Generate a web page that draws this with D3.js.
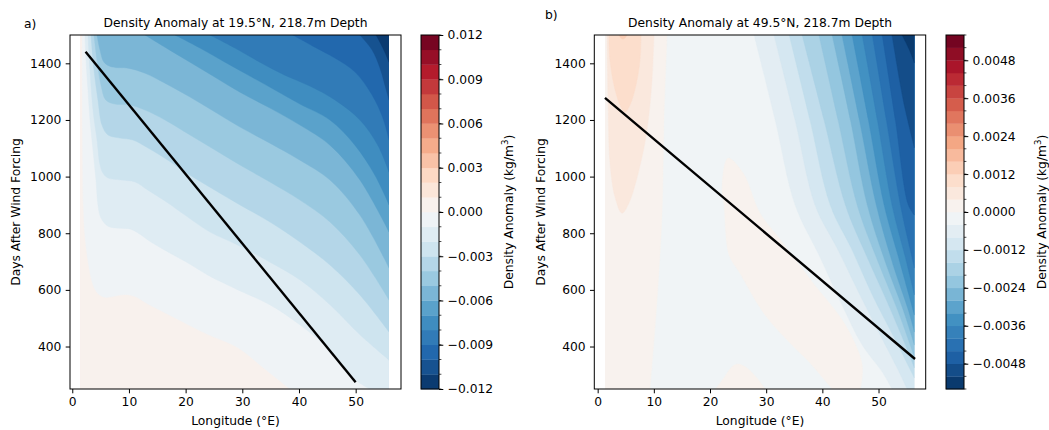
<!DOCTYPE html>
<html><head><meta charset="utf-8">
<script src="https://cdn.jsdelivr.net/npm/d3@7"></script>
<style>
body{margin:0;background:#fff}
svg text{font-family:"DejaVu Sans",sans-serif;fill:#000}
</style>
</head><body>
<svg id="chart" width="1049" height="430"></svg>
<script>
// ---------------- DATA ----------------
const dayExtent = [250, 1500];
const lonExtentA = [1.35, 55.9];
const lonExtentB = [1.3, 56.4];
const xLimA = [-0.4, 58.0];
const xLimB = [-0.6, 58.4];
const xTickValues = [0, 10, 20, 30, 40, 50];
const yTickValues = [400, 600, 800, 1000, 1200, 1400];

const levelsA = [-0.012,-0.011,-0.010,-0.009,-0.008,-0.007,-0.006,-0.005,-0.004,-0.003,-0.002,-0.001,0,
                 0.001,0.002,0.003,0.004,0.005,0.006,0.007,0.008,0.009,0.010,0.011,0.012];
const levelsB = [-0.0056,-0.0052,-0.0048,-0.0044,-0.0040,-0.0036,-0.0032,-0.0028,-0.0024,-0.0020,-0.0016,-0.0012,-0.0008,-0.0004,0,
                 0.0004,0.0008,0.0012,0.0016,0.0020,0.0024,0.0028,0.0032,0.0036,0.0040,0.0044,0.0048,0.0052,0.0056];
const cbTicksA = [-0.012,-0.009,-0.006,-0.003,0,0.003,0.006,0.009,0.012];
const cbTicksB = [-0.0048,-0.0036,-0.0024,-0.0012,0,0.0012,0.0024,0.0036,0.0048];

// propagation lines [lon, day]
const lineA = [[2.35, 1441], [50.0, 274]];
const lineB = [[1.3, 1278], [56.5, 356]];

// ---- panel a contour lines (lon, day) ----
const a_p000 = [[1.7,1500],[1.9,900],[2.2,785],[2.8,690],[3.6,618],[4.5,586],[5.8,572],[7.0,575],[9.3,582],[11.0,576],[13.4,548],[16.9,512],[20.4,476],[24.0,441],[29.2,395],[33.8,322],[38.3,250]];
const a_m001 = [[2.24,1500],[2.42,1411],[2.77,1305],[3.12,1200],[3.65,1094],[4.18,988],[4.53,900],[5.06,854],[6.3,825],[8.06,818],[10.18,815],[11.59,801],[13.88,769],[16.88,734],[20.41,695],[23.94,652],[29.24,600],[34.9,547],[40.2,476],[45.5,388],[50.0,282],[52.5,250]];
const a_m002 = [[2.77,1500],[3.12,1376],[3.65,1235],[4.36,1129],[4.89,1041],[5.42,1012],[6.3,995],[8.59,988],[11.06,981],[13.36,952],[16.88,907],[19.88,864],[24.3,804],[29.24,758],[34.88,698],[40.2,635],[45.5,547],[50.8,441],[55.9,352]];
const a_m003 = [[3.3,1500],[3.83,1376],[4.53,1270],[5.24,1182],[6.3,1147],[8.41,1136],[10.7,1129],[13.36,1101],[16.88,1058],[20.77,1005],[25.18,952],[29.59,900],[34.88,840],[40.17,769],[45.46,688],[50.75,582],[55.9,451]];
const a_m004 = [[3.83,1500],[4.36,1411],[5.06,1323],[5.95,1270],[7.53,1256],[10.18,1253],[12.83,1235],[16.35,1200],[20.77,1147],[25.18,1094],[29.59,1041],[34.88,981],[40.17,917],[45.46,840],[50.75,723],[55.9,564]];
const a_m005 = [[4.36,1500],[4.89,1447],[5.59,1404],[7.0,1387],[9.83,1383],[12.83,1365],[16.35,1330],[20.77,1281],[25.18,1228],[29.59,1175],[34.88,1118],[40.17,1058],[45.46,988],[50.75,864],[55.9,677]];
const a_m006 = [[12.83,1500],[16.35,1457],[20.77,1404],[25.18,1351],[29.59,1298],[34.88,1242],[40.17,1182],[45.46,1111],[50.75,988],[55.9,804]];
const a_m007 = [[18.12,1500],[22.53,1454],[26.94,1404],[31.35,1355],[35.76,1306],[40.17,1256],[45.46,1200],[49.87,1111],[53.4,1005],[55.9,900]];
const a_m008 = [[24.3,1500],[28.7,1454],[33.1,1404],[37.5,1358],[41.9,1320],[46.4,1270],[50.75,1200],[53.9,1111],[55.9,1016]];
const a_m009 = [[38.9,1500],[42.8,1457],[46.4,1418],[49.9,1369],[52.9,1288],[54.8,1207],[55.9,1129]];
const a_m010 = [[50.75,1500],[52.9,1447],[54.3,1383],[55.3,1313],[55.9,1270]];
const a_m011 = [[53.6,1500],[54.8,1454],[55.9,1404]];

// ---- panel b contour lines (lon, day) ----
const b_p000_west = [[12.35,1500],[11.8,1200],[11.46,871],[10.57,564],[9.32,250]];
const b_p000_band = [[41.75,250],[37.65,345],[34.6,405],[29.8,511],[25.2,663],[23.4,723],[22.5,900],[22.15,963],[23.2,1065],[25.9,1012],[28.9,871],[32.3,783],[38.2,628],[44.1,476],[47.1,335],[46.75,250]];
const b_p000_mound = [[21.0,250],[22.5,290],[24.0,330],[25.0,338],[26.5,325],[28.3,290],[29.8,250]];
const b_p004 = [[1.66,1500],[1.84,1281],[2.19,1048],[3.08,928],[4.33,871],[5.58,907],[7.36,1023],[8.78,1164],[9.68,1341],[10.03,1500]];
const b_p008 = [[2.0,1500],[2.19,1411],[2.9,1323],[3.97,1253],[4.86,1228],[5.76,1253],[6.82,1323],[7.54,1411],[7.72,1500]];
const b_p012 = [[3.8,1500],[4.15,1489],[4.5,1486],[4.86,1489],[5.2,1500]];
const b_m004 = [[27.85,1500],[31.6,1200],[35.15,900],[39.4,723],[43.5,547],[47.1,405],[50.66,310],[52.4,250]];
const b_m008 = [[31.4,1500],[35.15,1200],[38.7,900],[42.8,741],[46.7,582],[50.3,441],[53.5,317],[55.1,250]];
const b_m012 = [[34.1,1500],[37.8,1200],[41.4,900],[45.3,741],[48.9,582],[53.0,423],[56.4,289]];
const b_m016 = [[36.4,1500],[40.3,1200],[44.1,900],[47.8,723],[51.4,564],[54.8,405],[56.4,324]];
const b_m020 = [[39.4,1500],[42.8,1200],[46.2,900],[49.8,705],[53.4,529],[56.4,363]];
const b_m024 = [[41.75,1500],[45.0,1200],[48.0,900],[51.4,688],[54.4,529],[56.4,405]];
const b_m028 = [[43.5,1500],[46.6,1200],[49.6,900],[52.6,688],[55.3,529],[56.4,451]];
const b_m032 = [[45.3,1500],[48.2,1200],[51.0,900],[53.7,705],[56.4,511]];
const b_m036 = [[47.1,1500],[49.8,1200],[52.4,900],[54.9,705],[56.4,582]];
const b_m040 = [[48.9,1500],[51.4,1200],[53.9,900],[55.65,741],[56.4,677]];
const b_m044 = [[50.66,1500],[53.0,1200],[55.3,900],[56.4,864]];
const b_m048 = [[52.4,1500],[54.4,1270],[56.4,1101]];
const b_m052 = [[54.2,1500],[55.5,1447],[56.4,1401]];

// ---------------- RENDER ----------------
const rdbu = ["#053061","#2166ac","#4393c3","#92c5de","#d1e5f0","#f7f7f7","#fddbc7","#f4a582","#d6604d","#b2182b","#67001f"];
const cmap = d3.scaleLinear().domain(rdbu.map((_, i) => i / 10)).range(rdbu).interpolate(d3.interpolateRgb);

const svg = d3.select("#chart");
const FS = 12.3;
const TL = 4.3, TP = 4.3;

function bandColor(levels, lo, hi) {
  const vmin = levels[0], vmax = levels[levels.length - 1];
  return cmap(((lo + hi) / 2 - vmin) / (vmax - vmin));
}

function drawPanel(cfg) {
  const x = d3.scaleLinear().domain(cfg.xLim).range([cfg.left, cfg.right]);
  const y = d3.scaleLinear().domain(dayExtent).range([cfg.bottom, cfg.top]);
  const g = svg.append("g");
  const clipId = "clip" + cfg.id;
  svg.append("clipPath").attr("id", clipId).append("rect")
    .attr("x", x(cfg.lonExtent[0])).attr("y", y(dayExtent[1]))
    .attr("width", x(cfg.lonExtent[1]) - x(cfg.lonExtent[0]))
    .attr("height", y(dayExtent[0]) - y(dayExtent[1]));
  const field = g.append("g").attr("clip-path", `url(#${clipId})`);
  const step = cfg.levels[1] - cfg.levels[0];
  field.append("rect")
    .attr("x", x(cfg.lonExtent[0])).attr("y", y(dayExtent[1]))
    .attr("width", x(cfg.lonExtent[1]) - x(cfg.lonExtent[0]))
    .attr("height", y(dayExtent[0]) - y(dayExtent[1]))
    .attr("fill", bandColor(cfg.levels, cfg.base[0], cfg.base[1]));
  const corner = {
    TL: [cfg.lonExtent[0], dayExtent[1]], TR: [cfg.lonExtent[1], dayExtent[1]],
    BL: [cfg.lonExtent[0], dayExtent[0]], BR: [cfg.lonExtent[1], dayExtent[0]]
  };
  const lineGen = d3.line().x(d => x(d[0])).y(d => y(d[1])).curve(d3.curveCatmullRom.alpha(0.5));
  cfg.regions.forEach(r => {
    let p = lineGen(r.pts);
    r.close.forEach(k => { p += `L${x(corner[k][0])},${y(corner[k][1])}`; });
    p += "Z";
    const lo = r.side === "below" ? r.level - step : r.level;
    const hi = r.side === "below" ? r.level : r.level + step;
    const c = bandColor(cfg.levels, lo, hi);
    field.append("path").attr("d", p).attr("fill", c).attr("stroke", c).attr("stroke-width", 0.4);
  });
  g.append("path").attr("d", d3.line().x(d => x(d[0])).y(d => y(d[1]))(cfg.line))
    .attr("fill", "none").attr("stroke", "#000").attr("stroke-width", 2.4);
  const xa = g.append("g").attr("transform", `translate(0,${cfg.bottom})`)
    .call(d3.axisBottom(x).tickValues(xTickValues).tickSize(TL).tickPadding(TP).tickSizeOuter(0).tickFormat(d3.format("d")));
  const ya = g.append("g").attr("transform", `translate(${cfg.left},0)`)
    .call(d3.axisLeft(y).tickValues(yTickValues).tickSize(TL).tickPadding(TP).tickSizeOuter(0).tickFormat(d3.format("d")));
  [xa, ya].forEach(a => {
    a.select(".domain").remove();
    a.selectAll("text").attr("font-size", FS).attr("font-family", "DejaVu Sans");
    a.selectAll("line").attr("stroke", "#000").attr("stroke-width", 1);
  });
  g.append("rect").attr("x", cfg.left).attr("y", cfg.top)
    .attr("width", cfg.right - cfg.left).attr("height", cfg.bottom - cfg.top)
    .attr("fill", "none").attr("stroke", "#000").attr("stroke-width", 1);
  g.append("text").attr("x", (cfg.left + cfg.right) / 2).attr("y", 424.5)
    .attr("text-anchor", "middle").attr("font-size", FS).text("Longitude (°E)");
  g.append("text").attr("transform", `translate(${cfg.ylabX},${(cfg.top + cfg.bottom) / 2}) rotate(-90)`)
    .attr("text-anchor", "middle").attr("font-size", FS).text("Days After Wind Forcing");
  g.append("text").attr("x", (cfg.left + cfg.right) / 2).attr("y", 26.5)
    .attr("text-anchor", "middle").attr("font-size", FS).text(cfg.title);
  g.append("text").attr("x", cfg.tagX).attr("y", cfg.tagY).attr("font-size", FS).text(cfg.tag);

  // colorbar
  const cy = d3.scaleLinear().domain([cfg.levels[0], cfg.levels[cfg.levels.length - 1]]).range([cfg.bottom, cfg.top]);
  const cb = svg.append("g");
  for (let i = 0; i < cfg.levels.length - 1; i++) {
    const lo = cfg.levels[i], hi = cfg.levels[i + 1];
    cb.append("rect").attr("x", cfg.cbX).attr("width", cfg.cbW)
      .attr("y", cy(hi)).attr("height", cy(lo) - cy(hi) + 0.3)
      .attr("fill", bandColor(cfg.levels, lo, hi));
  }
  cb.append("rect").attr("x", cfg.cbX).attr("y", cfg.top).attr("width", cfg.cbW)
    .attr("height", cfg.bottom - cfg.top).attr("fill", "none").attr("stroke", "#000").attr("stroke-width", 1);
  const cax = cb.append("g").attr("transform", `translate(${cfg.cbX + cfg.cbW},0)`)
    .call(d3.axisRight(cy).tickValues(cfg.cbTicks).tickSize(TL).tickPadding(TP).tickSizeOuter(0)
      .tickFormat(v => d3.format(cfg.cbFmt)(Math.abs(v) < 1e-12 ? 0 : v).replace("-", "−")));
  cax.select(".domain").remove();
  cax.selectAll("text").attr("font-size", FS).attr("font-family", "DejaVu Sans");
  cax.selectAll("line").attr("stroke", "#000").attr("stroke-width", 1);
  const minor = cb.append("g").attr("transform", `translate(${cfg.cbX + cfg.cbW},0)`);
  minor.selectAll("line").data(cfg.levels).join("line")
    .attr("x1", 0).attr("x2", 2.4).attr("y1", d => cy(d)).attr("y2", d => cy(d))
    .attr("stroke", "#000").attr("stroke-width", 0.7);
  const lab = cb.append("text").attr("transform", `translate(${cfg.cbLabX},${(cfg.top + cfg.bottom) / 2}) rotate(-90)`)
    .attr("text-anchor", "middle").attr("font-size", FS);
  lab.append("tspan").text("Density Anomaly (kg/m");
  lab.append("tspan").attr("font-size", 8.6).attr("dy", -5).text("3");
  lab.append("tspan").attr("dy", 5).text(")");
}

const regionsA = [
  {level: -0.001, side: "below", pts: a_m001, close: ["BR", "TR"]},
  {level: -0.002, side: "below", pts: a_m002, close: ["TR"]},
  {level: -0.003, side: "below", pts: a_m003, close: ["TR"]},
  {level: -0.004, side: "below", pts: a_m004, close: ["TR"]},
  {level: -0.005, side: "below", pts: a_m005, close: ["TR"]},
  {level: -0.006, side: "below", pts: a_m006, close: ["TR"]},
  {level: -0.007, side: "below", pts: a_m007, close: ["TR"]},
  {level: -0.008, side: "below", pts: a_m008, close: ["TR"]},
  {level: -0.009, side: "below", pts: a_m009, close: ["TR"]},
  {level: -0.010, side: "below", pts: a_m010, close: ["TR"]},
  {level: -0.011, side: "below", pts: a_m011, close: ["TR"]},
  {level: 0, side: "above", pts: a_p000, close: ["BL", "TL"]}
];
const regionsB = [
  {level: -0.0004, side: "below", pts: b_m004, close: ["BR", "TR"]},
  {level: -0.0008, side: "below", pts: b_m008, close: ["BR", "TR"]},
  {level: -0.0012, side: "below", pts: b_m012, close: ["TR"]},
  {level: -0.0016, side: "below", pts: b_m016, close: ["TR"]},
  {level: -0.0020, side: "below", pts: b_m020, close: ["TR"]},
  {level: -0.0024, side: "below", pts: b_m024, close: ["TR"]},
  {level: -0.0028, side: "below", pts: b_m028, close: ["TR"]},
  {level: -0.0032, side: "below", pts: b_m032, close: ["TR"]},
  {level: -0.0036, side: "below", pts: b_m036, close: ["TR"]},
  {level: -0.0040, side: "below", pts: b_m040, close: ["TR"]},
  {level: -0.0044, side: "below", pts: b_m044, close: ["TR"]},
  {level: -0.0048, side: "below", pts: b_m048, close: ["TR"]},
  {level: -0.0052, side: "below", pts: b_m052, close: ["TR"]},
  {level: 0, side: "above", pts: b_p000_west, close: ["BL", "TL"]},
  {level: 0, side: "above", pts: b_p000_band, close: []},
  {level: 0, side: "above", pts: b_p000_mound, close: []},
  {level: 0.0004, side: "above", pts: b_p004, close: []},
  {level: 0.0008, side: "above", pts: b_p008, close: []},
  {level: 0.0012, side: "above", pts: b_p012, close: []}
];

drawPanel({id: "A", left: 70, right: 401, top: 35, bottom: 389, xLim: xLimA, lonExtent: lonExtentA,
  levels: levelsA, base: [-0.001, 0], regions: regionsA, line: lineA,
  title: "Density Anomaly at 19.5°N, 218.7m Depth", tag: "a)", tagX: 24, tagY: 28, ylabX: 20,
  cbX: 421, cbW: 18, cbTicks: cbTicksA, cbFmt: ".3f", cbLabX: 513});
drawPanel({id: "B", left: 594.3, right: 925.7, top: 35, bottom: 389, xLim: xLimB, lonExtent: lonExtentB,
  levels: levelsB, base: [-0.0004, 0], regions: regionsB, line: lineB,
  title: "Density Anomaly at 49.5°N, 218.7m Depth", tag: "b)", tagX: 545, tagY: 19, ylabX: 545,
  cbX: 946, cbW: 18, cbTicks: cbTicksB, cbFmt: ".4f", cbLabX: 1045.5});
</script>
</body></html>
